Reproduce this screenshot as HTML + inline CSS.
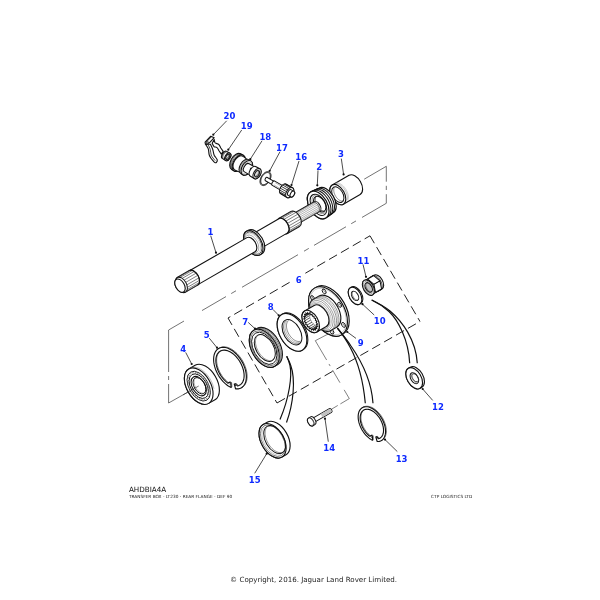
<!DOCTYPE html>
<html><head><meta charset="utf-8"><title>AHDBIA4A - Transfer Box - LT230 - Rear Flange - DEF 90</title>
<style>
html,body{margin:0;padding:0;background:#fff;}
body{width:600px;height:600px;overflow:hidden;position:relative;font-family:"DejaVu Sans","Liberation Sans",sans-serif;}
svg{position:absolute;left:0;top:0;display:block;}
svg{will-change:transform;opacity:0.999;filter:blur(0.35px);}
.lbl{font-family:"DejaVu Sans","Liberation Sans",sans-serif;font-weight:bold;font-size:8.5px;fill:#0e2aff;text-anchor:middle;}
.t1{font-family:"DejaVu Sans","Liberation Sans",sans-serif;font-size:7.2px;fill:#111;}
.t2{font-family:"DejaVu Sans","Liberation Sans",sans-serif;font-size:4.29px;fill:#1a1a1a;}
.t3{font-family:"DejaVu Sans","Liberation Sans",sans-serif;font-size:7.1px;fill:#222;}
</style></head>
<body>
<svg width="600" height="600" viewBox="0 0 600 600">
<rect width="600" height="600" fill="#fff"/>
<path d="M168.6,330 L184,321.04 M202,310.56 L226,296.59 M231.2,293.57 L236,290.77 M242,287.28 L298,254.69 M304,251.2 L308.8,248.4 M314,245.38 L346,226.75 M351.2,223.73 L356,220.93 M362,217.44 L386.3,203.3" fill="none" stroke="#333" stroke-width="0.69" />
<path d="M198.7,386 L168.6,403 L168.6,384 M168.6,380 L168.6,376 M168.6,372 L168.6,330" fill="none" stroke="#333" stroke-width="0.69" />
<path d="M364.2,179.2 L386.3,166.3 L386.3,181.7 M386.3,185.8 L386.3,190 M386.3,194.2 L386.3,203.3" fill="none" stroke="#333" stroke-width="0.69" />
<path d="M370,235.8 L228,318" fill="none" stroke="#111" stroke-width="0.94" stroke-dasharray="9.2 4.5" stroke-dashoffset="3"/>
<path d="M370,235.8 L420,321.5" fill="none" stroke="#111" stroke-width="0.94" stroke-dasharray="9.2 4.5" stroke-dashoffset="0.6"/>
<path d="M228,318 L277,403" fill="none" stroke="#111" stroke-width="0.94" stroke-dasharray="9.2 4.5" stroke-dashoffset="1.2"/>
<path d="M277,403 L420,321.5" fill="none" stroke="#111" stroke-width="0.94" stroke-dasharray="9.2 4.5"/>
<path d="M333.3,331.3 L315.3,340.7" fill="none" stroke="#333" stroke-width="0.62" />
<path d="M315.3,340.7 L349.3,398.6" fill="none" stroke="#333" stroke-width="0.62" stroke-dasharray="22.4 4.6 2.4 4.6 14.7 8.3 11"/>
<path d="M349.3,398.6 L331.5,409.2" fill="none" stroke="#333" stroke-width="0.62" stroke-dasharray="10.4 3 20"/>
<g transform="translate(318.7 204.7) rotate(-30)">
<g transform="translate(0 0.8)">
<path d="M21.6,-11.1 L41,-11.1 A6.66,11.1 0 0 1 41,11.1 L21.6,11.1 A6.66,11.1 0 0 1 21.6,-11.1 Z" fill="#fff" stroke="#111" stroke-width="1.12" stroke-linejoin="round"/>
<path d="M24.56,-10.93 L25.25,-10.67 L25.91,-10.28 L26.55,-9.78 L27.16,-9.16 L27.72,-8.45 L28.23,-7.64 L28.69,-6.74 L29.09,-5.77 L29.43,-4.73 L29.69,-3.64 L29.89,-2.51 L30.01,-1.34 L30.06,-0.17 L30.03,1.01 L29.93,2.18 L29.76,3.32 L29.51,4.42 L29.19,5.48 L28.81,6.47 L28.37,7.39 L27.87,8.23 L27.32,8.97 L26.73,9.61" fill="none" stroke="#888" stroke-width="0.5"/>
<path d="M25.76,-10.93 L26.45,-10.67 L27.11,-10.28 L27.75,-9.78 L28.36,-9.16 L28.92,-8.45 L29.43,-7.64 L29.89,-6.74 L30.29,-5.77 L30.63,-4.73 L30.89,-3.64 L31.09,-2.51 L31.21,-1.34 L31.26,-0.17 L31.23,1.01 L31.13,2.18 L30.96,3.32 L30.71,4.42 L30.39,5.48 L30.01,6.47 L29.57,7.39 L29.07,8.23 L28.52,8.97 L27.93,9.61" fill="none" stroke="#aaa" stroke-width="0.5"/>
<ellipse cx="21.6" cy="0" rx="6.66" ry="11.1" fill="#fff" stroke="#111" stroke-width="1.12" />
<ellipse cx="21.6" cy="0" rx="5.1" ry="8.5" fill="none" stroke="#111" stroke-width="1" />
<path d="M23.56,8.47 L23.01,8.34 L22.47,8.11 L21.96,7.79 L21.47,7.38 L21,6.88 L20.57,6.3 L20.19,5.64 L19.84,4.92 L19.55,4.15 L19.31,3.32 L19.12,2.46 L18.99,1.56 L18.92,0.65 L18.9,-0.27 L18.95,-1.18 L19.06,-2.09 L19.22,-2.96 L19.44,-3.81 L19.71,-4.6 L20.04,-5.35 L20.41,-6.03 L20.82,-6.64 L21.27,-7.18 L21.75,-7.63 L22.26,-7.99" fill="none" stroke="#555" stroke-width="0.62"/>
</g>
<path d="M-0.6,-15.1 L8.4,-14.2 A8.52,14.2 0 0 1 8.4,14.2 L-0.6,15.1 A9.06,15.1 0 0 1 -0.6,-15.1 Z" fill="#fff" stroke="#111" stroke-width="1.25" stroke-linejoin="round"/>
<path d="M1.34,-14.99 L2.3,-14.96 L3.25,-14.76 L4.19,-14.39 L5.1,-13.85 L5.97,-13.16 L6.79,-12.32 L7.55,-11.33 L8.24,-10.22 L8.86,-8.99 L9.39,-7.65 L9.84,-6.23 L10.19,-4.73 L10.44,-3.19 L10.6,-1.6 L10.65,0 L10.6,1.6 L10.44,3.19 L10.19,4.73 L9.84,6.23 L9.39,7.65 L8.86,8.99 L8.24,10.22 L7.55,11.33 L6.79,12.32 L5.97,13.16 L5.1,13.85 L4.19,14.39 L3.25,14.76 L2.3,14.96 L1.34,14.99" fill="none" stroke="#111" stroke-width="1"/>
<path d="M3.59,-14.79 L4.54,-14.76 L5.48,-14.56 L6.41,-14.2 L7.3,-13.67 L8.16,-12.99 L8.97,-12.15 L9.72,-11.18 L10.4,-10.08 L11.01,-8.87 L11.54,-7.55 L11.98,-6.15 L12.33,-4.67 L12.58,-3.14 L12.73,-1.58 L12.78,0 L12.73,1.58 L12.58,3.14 L12.33,4.67 L11.98,6.15 L11.54,7.55 L11.01,8.87 L10.4,10.08 L9.72,11.18 L8.97,12.15 L8.16,12.99 L7.3,13.67 L6.41,14.2 L5.48,14.56 L4.54,14.76 L3.59,14.79" fill="none" stroke="#111" stroke-width="1"/>
<path d="M5.85,-14.49 L6.78,-14.46 L7.7,-14.27 L8.61,-13.91 L9.48,-13.39 L10.32,-12.72 L11.12,-11.91 L11.85,-10.95 L12.52,-9.88 L13.12,-8.69 L13.63,-7.4 L14.06,-6.02 L14.41,-4.58 L14.65,-3.08 L14.8,-1.55 L14.85,0 L14.8,1.55 L14.65,3.08 L14.41,4.58 L14.06,6.02 L13.63,7.4 L13.12,8.69 L12.52,9.88 L11.85,10.95 L11.12,11.91 L10.32,12.72 L9.48,13.39 L8.61,13.91 L7.7,14.27 L6.78,14.46 L5.85,14.49" fill="none" stroke="#111" stroke-width="1"/>
<ellipse cx="-0.6" cy="0" rx="9.06" ry="15.1" fill="#fff" stroke="#111" stroke-width="1.25" />
<ellipse cx="-0.3" cy="0" rx="6.96" ry="11.6" fill="none" stroke="#111" stroke-width="1" />
<path d="M3.86,8.83 L3.29,9.32 L2.69,9.7 L2.07,9.98 L1.44,10.14 L0.8,10.2 L0.16,10.14 L-0.47,9.98 L-1.09,9.7 L-1.69,9.32 L-2.26,8.83 L-2.8,8.25 L-3.3,7.58 L-3.75,6.83 L-4.15,6 L-4.5,5.1 L-4.79,4.15 L-5.02,3.15 L-5.19,2.12 L-5.29,1.07 L-5.32,0 L-5.29,-1.07 L-5.19,-2.12 L-5.02,-3.15 L-4.79,-4.15 L-4.5,-5.1 L-4.15,-6 L-3.75,-6.83 L-3.3,-7.58 L-2.8,-8.25 L-2.26,-8.83 L-1.69,-9.32 L-1.09,-9.7 L-0.47,-9.98 L0.16,-10.14 L0.8,-10.2 L1.44,-10.14 L2.07,-9.98 L2.69,-9.7 L3.29,-9.32 L3.86,-8.83" fill="none" stroke="#666" stroke-width="0.62"/>
<ellipse cx="1.2" cy="0" rx="5.16" ry="8.6" fill="none" stroke="#111" stroke-width="1.12" />
<path d="M2.1,8.47 L1.56,8.26 L1.04,7.96 L0.54,7.56 L0.07,7.08 L-0.37,6.51 L-0.77,5.87 L-1.13,5.17 L-1.43,4.4 L-1.69,3.58 L-1.89,2.72 L-2.04,1.83 L-2.13,0.92 L-2.16,0 L-2.13,-0.92 L-2.04,-1.83 L-1.89,-2.72 L-1.69,-3.58 L-1.43,-4.4 L-1.13,-5.17 L-0.77,-5.87 L-0.37,-6.51 L0.07,-7.08 L0.54,-7.56 L1.04,-7.96 L1.56,-8.26 L2.1,-8.47" fill="none" stroke="#333" stroke-width="0.88"/>
<g transform="translate(0 0.7)">
<path d="M-28,-5.6 L-2.5,-5.6 A3.36,5.6 0 0 1 -2.5,5.6 L-28,5.6 A3.36,5.6 0 0 1 -28,-5.6 Z" fill="#fff" stroke="#111" stroke-width="1" stroke-linejoin="round"/>
<path d="M-26.63,-5.12 L-1.13,-5.12 M-25.75,-4.16 L-0.25,-4.16 M-25.09,-2.8 L0.41,-2.8 M-24.71,-1.16 L0.79,-1.16 M-24.66,0.59 L0.84,0.59 M-24.93,2.28 L0.57,2.28 M-25.5,3.75 L-0,3.75 M-26.32,4.85 L-0.82,4.85 M-27.3,5.48 L-1.8,5.48 " fill="none" stroke="#666" stroke-width="0.44"/>
<path d="M-4.2,-5.6 L-3.85,-5.57 L-3.5,-5.48 L-3.16,-5.33 L-2.83,-5.12 L-2.52,-4.85 L-2.23,-4.53 L-1.95,-4.16 L-1.7,-3.75 L-1.48,-3.29 L-1.29,-2.8 L-1.13,-2.28 L-1,-1.73 L-0.91,-1.16 L-0.86,-0.59 L-0.84,0 L-0.86,0.59 L-0.91,1.16 L-1,1.73 L-1.13,2.28 L-1.29,2.8 L-1.48,3.29 L-1.7,3.75 L-1.95,4.16 L-2.23,4.53 L-2.52,4.85 L-2.83,5.12 L-3.16,5.33 L-3.5,5.48 L-3.85,5.57 L-4.2,5.6" fill="none" stroke="#333" stroke-width="0.62"/>
</g>
<g transform="translate(0 0.6)">
<path d="M-41.5,-8.6 L-27.5,-8.6 A5.16,8.6 0 0 1 -27.5,8.6 L-41.5,8.6 A5.16,8.6 0 0 1 -41.5,-8.6 Z" fill="#fff" stroke="#111" stroke-width="1.12" stroke-linejoin="round"/>
<path d="M-40.25,-8.34 L-26.25,-8.34 M-38.69,-7.21 L-24.69,-7.21 M-37.43,-5.29 L-23.43,-5.29 M-36.62,-2.8 L-22.62,-2.8 M-36.34,0 L-22.34,0 M-36.62,2.8 L-22.62,2.8 M-37.43,5.29 L-23.43,5.29 M-38.69,7.21 L-24.69,7.21 M-40.25,8.34 L-26.25,8.34 " fill="none" stroke="#444" stroke-width="0.62"/>
<path d="M-41.5,-8.6 L-40.96,-8.55 L-40.43,-8.41 L-39.91,-8.18 L-39.4,-7.86 L-38.92,-7.45 L-38.47,-6.96 L-38.05,-6.39 L-37.67,-5.75 L-37.33,-5.05 L-37.03,-4.3 L-36.79,-3.5 L-36.59,-2.66 L-36.45,-1.79 L-36.37,-0.9 L-36.34,0 L-36.37,0.9 L-36.45,1.79 L-36.59,2.66 L-36.79,3.5 L-37.03,4.3 L-37.33,5.05 L-37.67,5.75 L-38.05,6.39 L-38.47,6.96 L-38.92,7.45 L-39.4,7.86 L-39.91,8.18 L-40.43,8.41 L-40.96,8.55 L-41.5,8.6" fill="none" stroke="#111" stroke-width="1"/>
</g>
<g transform="translate(0 0.55)">
<path d="M-72,-8.3 L-41.5,-8.3 A4.98,8.3 0 0 1 -41.5,8.3 L-72,8.3 A4.98,8.3 0 0 1 -72,-8.3 Z" fill="#fff" stroke="#111" stroke-width="1.12" stroke-linejoin="round"/>
</g>
<g transform="translate(0 0.5)">
<path d="M-75.8,-13.5 L-73.8,-13.5 A8.1,13.5 0 0 1 -73.8,13.5 L-75.8,13.5 A8.1,13.5 0 0 1 -75.8,-13.5 Z" fill="#fff" stroke="#111" stroke-width="1.12" stroke-linejoin="round"/>
<ellipse cx="-75.8" cy="0" rx="8.1" ry="13.5" fill="#fff" stroke="#111" stroke-width="1.12" />
<ellipse cx="-76" cy="0" rx="7.38" ry="12.3" fill="none" stroke="#333" stroke-width="0.75" />
<ellipse cx="-76.6" cy="0" rx="6.72" ry="11.2" fill="none" stroke="#aaa" stroke-width="0.5" />
<ellipse cx="-77.6" cy="0" rx="5.88" ry="9.8" fill="none" stroke="#777" stroke-width="0.56" />
</g>
<g transform="translate(0 0.75)">
<path d="M-145,-8.1 L-78.6,-8.1 A4.86,8.1 0 0 1 -78.6,8.1 L-145,8.1 A4.86,8.1 0 0 1 -145,-8.1 Z" fill="#fff" stroke="#111" stroke-width="1.12" stroke-linejoin="round"/>
<path d="M-159,-8.4 L-145,-8.4 A5.04,8.4 0 0 1 -145,8.4 L-159,8.4 A5.04,8.4 0 0 1 -159,-8.4 Z" fill="#fff" stroke="#111" stroke-width="1.12" stroke-linejoin="round"/>
<path d="M-157.78,-8.15 L-143.78,-8.15 M-156.26,-7.04 L-142.26,-7.04 M-155.03,-5.17 L-141.03,-5.17 M-154.23,-2.73 L-140.23,-2.73 M-153.96,0 L-139.96,0 M-154.23,2.73 L-140.23,2.73 M-155.03,5.17 L-141.03,5.17 M-156.26,7.04 L-142.26,7.04 M-157.78,8.15 L-143.78,8.15 " fill="none" stroke="#444" stroke-width="0.62"/>
<path d="M-145,-8.4 L-144.47,-8.35 L-143.95,-8.22 L-143.44,-7.99 L-142.95,-7.67 L-142.48,-7.27 L-142.04,-6.8 L-141.63,-6.24 L-141.25,-5.62 L-140.92,-4.94 L-140.64,-4.2 L-140.4,-3.42 L-140.21,-2.6 L-140.07,-1.75 L-139.99,-0.88 L-139.96,0 L-139.99,0.88 L-140.07,1.75 L-140.21,2.6 L-140.4,3.42 L-140.64,4.2 L-140.92,4.94 L-141.25,5.62 L-141.63,6.24 L-142.04,6.8 L-142.48,7.27 L-142.95,7.67 L-143.44,7.99 L-143.95,8.22 L-144.47,8.35 L-145,8.4" fill="none" stroke="#111" stroke-width="1"/>
<path d="M-160.6,-7.3 L-159,-8.4 A5.04,8.4 0 0 1 -159,8.4 L-160.6,7.3 A4.38,7.3 0 0 1 -160.6,-7.3 Z" fill="#fff" stroke="#111" stroke-width="1" stroke-linejoin="round"/>
<ellipse cx="-160.6" cy="0" rx="4.38" ry="7.3" fill="#fff" stroke="#111" stroke-width="1.12" />
</g>
</g>
<g transform="translate(225.5 155.5) rotate(30)">
<path d="M2.6,4.2 L-1,4.2 A2.52,4.2 0 0 1 -1,-4.2 L2.6,-4.2 A2.52,4.2 0 0 1 2.6,4.2 Z" fill="#fff" stroke="#111" stroke-width="1.12" stroke-linejoin="round"/>
<path d="M-0.3,4.2 L-0.56,4.18 L-0.82,4.11 L-1.08,3.99 L-1.32,3.84 L-1.56,3.64 L-1.78,3.4 L-1.99,3.12 L-2.17,2.81 L-2.34,2.47 L-2.48,2.1 L-2.6,1.71 L-2.7,1.3 L-2.76,0.87 L-2.81,0.44 L-2.82,0 L-2.81,-0.44 L-2.76,-0.87 L-2.7,-1.3 L-2.6,-1.71 L-2.48,-2.1 L-2.34,-2.47 L-2.17,-2.81 L-1.99,-3.12 L-1.78,-3.4 L-1.56,-3.64 L-1.32,-3.84 L-1.08,-3.99 L-0.82,-4.11 L-0.56,-4.18 L-0.3,-4.2" fill="none" stroke="#111" stroke-width="0.75"/>
<path d="M0.5,4.2 L0.24,4.18 L-0.02,4.11 L-0.28,3.99 L-0.52,3.84 L-0.76,3.64 L-0.98,3.4 L-1.19,3.12 L-1.37,2.81 L-1.54,2.47 L-1.68,2.1 L-1.8,1.71 L-1.9,1.3 L-1.96,0.87 L-2.01,0.44 L-2.02,0 L-2.01,-0.44 L-1.96,-0.87 L-1.9,-1.3 L-1.8,-1.71 L-1.68,-2.1 L-1.54,-2.47 L-1.37,-2.81 L-1.19,-3.12 L-0.98,-3.4 L-0.76,-3.64 L-0.52,-3.84 L-0.28,-3.99 L-0.02,-4.11 L0.24,-4.18 L0.5,-4.2" fill="none" stroke="#444" stroke-width="0.62"/>
<ellipse cx="2.6" cy="0" rx="2.52" ry="4.2" fill="#fff" stroke="#111" stroke-width="1.12" />
<ellipse cx="2.6" cy="0" rx="1.68" ry="2.8" fill="#ddd" stroke="#111" stroke-width="1" />
<path d="M2.17,-2.63 L2.34,-2.52 L2.49,-2.37 L2.63,-2.21 L2.77,-2.01 L2.89,-1.8 L2.99,-1.57 L3.08,-1.31 L3.16,-1.05 L3.21,-0.77 L3.25,-0.49 L3.28,-0.2 L3.28,0.1 L3.26,0.39 L3.23,0.68 L3.18,0.96 L3.11,1.23 L3.02,1.48 L2.92,1.72 L2.81,1.95 L2.68,2.14 L2.54,2.32 L2.39,2.47 L2.23,2.6 L2.06,2.69 L1.89,2.76" fill="none" stroke="#222" stroke-width="0.75"/>
<path d="M15.3,9 L12.3,9 A5.4,9 0 0 1 12.3,-9 L15.3,-9 A5.4,9 0 0 1 15.3,9 Z" fill="#fff" stroke="#111" stroke-width="1.12" stroke-linejoin="round"/>
<path d="M13.2,9 L12.64,8.95 L12.08,8.8 L11.53,8.56 L11,8.22 L10.5,7.79 L10.03,7.28 L9.59,6.69 L9.19,6.02 L8.83,5.29 L8.52,4.5 L8.27,3.66 L8.06,2.78 L7.92,1.87 L7.83,0.94 L7.8,0 L7.83,-0.94 L7.92,-1.87 L8.06,-2.78 L8.27,-3.66 L8.52,-4.5 L8.83,-5.29 L9.19,-6.02 L9.59,-6.69 L10.03,-7.28 L10.5,-7.79 L11,-8.22 L11.53,-8.56 L12.08,-8.8 L12.64,-8.95 L13.2,-9" fill="none" stroke="#111" stroke-width="0.62"/>
<path d="M14.3,9 L13.74,8.95 L13.18,8.8 L12.63,8.56 L12.1,8.22 L11.6,7.79 L11.13,7.28 L10.69,6.69 L10.29,6.02 L9.93,5.29 L9.62,4.5 L9.37,3.66 L9.16,2.78 L9.02,1.87 L8.93,0.94 L8.9,0 L8.93,-0.94 L9.02,-1.87 L9.16,-2.78 L9.37,-3.66 L9.62,-4.5 L9.93,-5.29 L10.29,-6.02 L10.69,-6.69 L11.13,-7.28 L11.6,-7.79 L12.1,-8.22 L12.63,-8.56 L13.18,-8.8 L13.74,-8.95 L14.3,-9" fill="none" stroke="#111" stroke-width="0.62"/>
<ellipse cx="15.3" cy="0" rx="5.4" ry="9" fill="#fff" stroke="#111" stroke-width="1.12" />
<ellipse cx="15.6" cy="0" rx="4.86" ry="8.1" fill="none" stroke="#888" stroke-width="0.5" />
<path d="M22.3,7.2 L15.3,8 A4.8,8 0 0 1 15.3,-8 L22.3,-7.2 A4.32,7.2 0 0 1 22.3,7.2 Z" fill="#fff" stroke="#111" stroke-width="1" stroke-linejoin="round"/>
<path d="M24.6,8 L22.3,8 A4.8,8 0 0 1 22.3,-8 L24.6,-8 A4.8,8 0 0 1 24.6,8 Z" fill="#fff" stroke="#111" stroke-width="1.12" stroke-linejoin="round"/>
<path d="M22.88,7.97 L22.38,7.85 L21.89,7.64 L21.41,7.35 L20.95,6.98 L20.52,6.52 L20.12,6 L19.76,5.4 L19.44,4.75 L19.16,4.04 L18.92,3.29 L18.74,2.5 L18.61,1.68 L18.53,0.85 L18.5,0 L18.53,-0.85 L18.61,-1.68 L18.74,-2.5 L18.92,-3.29 L19.16,-4.04 L19.44,-4.75 L19.76,-5.4 L20.12,-6 L20.52,-6.52 L20.95,-6.98 L21.41,-7.35 L21.89,-7.64 L22.38,-7.85 L22.88,-7.97" fill="none" stroke="#555" stroke-width="0.62"/>
<ellipse cx="24.6" cy="0" rx="4.8" ry="8" fill="#fff" stroke="#111" stroke-width="1.12" />
<ellipse cx="24.9" cy="0" rx="3.96" ry="6.6" fill="none" stroke="#888" stroke-width="0.5" />
<path d="M32.2,4.7 L24.6,4.7 A2.82,4.7 0 0 1 24.6,-4.7 L32.2,-4.7 A2.82,4.7 0 0 1 32.2,4.7 Z" fill="#fff" stroke="#111" stroke-width="1" stroke-linejoin="round"/>
<path d="M27.4,-1.4 L29.2,-1.4 M28.3,-2.4 L28.3,-0.2" fill="none" stroke="#111" stroke-width="0.62" />
<path d="M36.4,5.6 L32,5.6 A3.36,5.6 0 0 1 32,-5.6 L36.4,-5.6 A3.36,5.6 0 0 1 36.4,5.6 Z" fill="#fff" stroke="#111" stroke-width="1.12" stroke-linejoin="round"/>
<ellipse cx="36.4" cy="0" rx="3.36" ry="5.6" fill="#fff" stroke="#111" stroke-width="1.12" />
<ellipse cx="36.4" cy="0" rx="2.7" ry="4.5" fill="none" stroke="#777" stroke-width="0.5" />
<ellipse cx="36.4" cy="0" rx="2.04" ry="3.4" fill="#ddd" stroke="#111" stroke-width="1" />
<path d="M36.2,-3.19 L36.39,-3.06 L36.58,-2.88 L36.76,-2.68 L36.92,-2.45 L37.06,-2.19 L37.19,-1.9 L37.3,-1.6 L37.39,-1.27 L37.46,-0.94 L37.51,-0.59 L37.54,-0.24 L37.54,0.12 L37.52,0.47 L37.48,0.82 L37.42,1.16 L37.33,1.49 L37.23,1.8 L37.11,2.09 L36.97,2.36 L36.81,2.6 L36.64,2.82 L36.46,3 L36.26,3.15 L36.06,3.27 L35.85,3.35" fill="none" stroke="#333" stroke-width="0.62"/>
<path d="M50.76,0 L50.74,0.79 L50.66,1.58 L50.54,2.35 L50.37,3.09 L50.15,3.8 L49.89,4.47 L49.59,5.09 L49.25,5.65 L48.88,6.15 L48.48,6.58 L48.05,6.94 L47.61,7.23 L47.15,7.43 L46.68,7.56 L46.2,7.6 L45.72,7.56 L45.25,7.43 L44.79,7.23 L44.35,6.94 L43.92,6.58 L43.52,6.15 L43.15,5.65 L42.81,5.09 L42.51,4.47 L42.25,3.8 L42.03,3.09 L41.86,2.35 L41.74,1.58 L41.66,0.79 L41.64,0 L41.66,-0.79 L41.74,-1.58 L41.86,-2.35 L42.03,-3.09 L42.25,-3.8 L42.51,-4.47 L42.81,-5.09 L43.15,-5.65 L43.52,-6.15 L43.92,-6.58 L44.35,-6.94 L44.79,-7.23 L45.25,-7.43 L45.72,-7.56 L46.2,-7.6 L46.68,-7.56 L47.15,-7.43 L47.61,-7.23 L48.05,-6.94 L48.48,-6.58 L48.88,-6.15 L49.25,-5.65 L49.59,-5.09 L49.89,-4.47 L50.15,-3.8 L50.37,-3.09 L50.54,-2.35 L50.66,-1.58 L50.74,-0.79 L50.76,-0 L50.16,-0 L50.14,-0.69 L50.07,-1.37 L49.97,-2.04 L49.82,-2.68 L49.63,-3.3 L49.4,-3.88 L49.14,-4.42 L48.85,-4.9 L48.53,-5.34 L48.18,-5.72 L47.81,-6.03 L47.42,-6.28 L47.02,-6.46 L46.61,-6.56 L46.2,-6.6 L45.79,-6.56 L45.38,-6.46 L44.98,-6.28 L44.59,-6.03 L44.22,-5.72 L43.87,-5.34 L43.55,-4.9 L43.26,-4.42 L43,-3.88 L42.77,-3.3 L42.58,-2.68 L42.43,-2.04 L42.33,-1.37 L42.26,-0.69 L42.24,0 L42.26,0.69 L42.33,1.37 L42.43,2.04 L42.58,2.68 L42.77,3.3 L43,3.88 L43.26,4.42 L43.55,4.9 L43.87,5.34 L44.22,5.72 L44.59,6.03 L44.98,6.28 L45.38,6.46 L45.79,6.56 L46.2,6.6 L46.61,6.56 L47.02,6.46 L47.42,6.28 L47.81,6.03 L48.18,5.72 L48.53,5.34 L48.85,4.9 L49.14,4.42 L49.4,3.88 L49.63,3.3 L49.82,2.68 L49.97,2.04 L50.07,1.37 L50.14,0.69 L50.16,0 Z" fill="#fff" stroke="#111" stroke-width="0.88" stroke-linejoin="round"/>
<path d="M56,1.9 L47.2,1.9 A1.14,1.9 0 0 1 47.2,-1.9 L56,-1.9 A1.14,1.9 0 0 1 56,1.9 Z" fill="#fff" stroke="#111" stroke-width="1" stroke-linejoin="round"/>
<path d="M67.5,2.5 L55.5,2.5 A1.5,2.5 0 0 1 55.5,-2.5 L67.5,-2.5 A1.5,2.5 0 0 1 67.5,2.5 Z" fill="#fff" stroke="#111" stroke-width="1" stroke-linejoin="round"/>
<path d="M56.7,-1.25 L62.7,-1.25 M56.7,1.25 L62.7,1.25 " fill="none" stroke="#777" stroke-width="0.44"/>
<path d="M74.2,5.6 L67,5.6 A3.36,5.6 0 0 1 67,-5.6 L74.2,-5.6 A3.36,5.6 0 0 1 74.2,5.6 Z" fill="#fff" stroke="#111" stroke-width="1.12" stroke-linejoin="round"/>
<path d="M66.13,-5.41 L73.33,-5.41 M65.03,-4.53 L72.23,-4.53 M64.18,-3.05 L71.38,-3.05 M63.71,-1.16 L70.91,-1.16 M63.68,0.88 L70.88,0.88 M64.09,2.8 L71.29,2.8 M64.89,4.35 L72.09,4.35 M65.96,5.33 L73.16,5.33 " fill="none" stroke="#111" stroke-width="0.75"/>
<ellipse cx="74.2" cy="0" rx="3.36" ry="5.6" fill="#fff" stroke="#111" stroke-width="1.12" />
<path d="M77.2,3.2 L74.2,3.2 A1.92,3.2 0 0 1 74.2,-3.2 L77.2,-3.2 A1.92,3.2 0 0 1 77.2,3.2 Z" fill="#fff" stroke="#111" stroke-width="1" stroke-linejoin="round"/>
<ellipse cx="77.2" cy="0" rx="1.92" ry="3.2" fill="#fff" stroke="#111" stroke-width="1" />
</g>
<path d="M205.5,144.2 C206.6,146 207.6,147.2 208.2,148.6 C208.9,150.6 208.7,152.8 209.2,154.8 C210,157.6 212.4,160 214.2,162 C215,162.9 215.8,163 216.3,162.5 C217.2,161.7 217.5,160.6 217.2,159.8 C216.4,158 215,156.8 214.2,155.2 C213.4,153.4 213.4,151.4 212.8,149.6 C212.2,147.8 211.2,146 210.5,144.2 Z" fill="#fff" stroke="#111" stroke-width="1.12" stroke-linejoin="round"/>
<path d="M207.8,144.4 C208.8,146.2 209.8,147.6 210.2,149.2 C210.8,151.2 210.6,153.2 211.2,155 C212,157.2 213.8,159 215.2,160.6" fill="none" stroke="#111" stroke-width="0.75" />
<path d="M214.2,139.4 C214.3,141 214.4,142.3 215.2,142.9 C216.2,143.6 217.6,143.6 218.5,144.3 C219.6,145.2 220.1,146.8 220.8,148 L223.2,151.4 L221.3,154.1 L219,150.7 C218.4,149.6 217.9,148.3 217,147.6 C216.1,146.9 214.9,147.2 214.2,146.7 C213.2,145.9 212.7,144.6 212.2,143.3 Z" fill="#fff" stroke="#111" stroke-width="1.12" stroke-linejoin="round"/>
<path d="M205.1,142.2 L210.8,136.2 L214.2,137.7 L209.6,142.6 L206.8,144.4 L205.4,144.2 Z" fill="#fff" stroke="#111" stroke-width="1.12" stroke-linejoin="round"/>
<path d="M206.7,141.6 L211.2,137 M206.7,141.6 L209.6,142.6 M206.7,141.6 L206.8,144.4" fill="none" stroke="#111" stroke-width="0.88" />
<g transform="translate(310.7 321.5) rotate(-30)">
<g transform="translate(0 -0.5)">
<path d="M74.4,-8 L77.9,-8 A4.8,8 0 0 1 77.9,8 L74.4,8 A4.8,8 0 0 1 74.4,-8 Z" fill="#fff" stroke="#111" stroke-width="1.12" stroke-linejoin="round"/>
<path d="M76.1,-8 L76.6,-7.96 L77.1,-7.83 L77.58,-7.61 L78.05,-7.31 L78.5,-6.93 L78.92,-6.47 L79.31,-5.95 L79.67,-5.35 L79.98,-4.7 L80.26,-4 L80.49,-3.25 L80.67,-2.47 L80.8,-1.66 L80.87,-0.84 L80.9,0 L80.87,0.84 L80.8,1.66 L80.67,2.47 L80.49,3.25 L80.26,4 L79.98,4.7 L79.67,5.35 L79.31,5.95 L78.92,6.47 L78.5,6.93 L78.05,7.31 L77.58,7.61 L77.1,7.83 L76.6,7.96 L76.1,8" fill="none" stroke="#111" stroke-width="0.75"/>
<path d="M65.2,-7.79 L70.6,-7.79 L77.6,-7.79 L72.2,-7.79 Z" fill="#fff" stroke="#111" stroke-width="1" stroke-linejoin="round"/>
<path d="M70.6,7.79 L65.2,7.79 L72.2,7.79 L77.6,7.79 Z" fill="#fff" stroke="#111" stroke-width="1" stroke-linejoin="round"/>
<path d="M70.6,-7.79 L73.3,0 L80.3,0 L77.6,-7.79 Z" fill="#fff" stroke="#111" stroke-width="1" stroke-linejoin="round"/>
<path d="M73.3,0 L70.6,7.79 L77.6,7.79 L80.3,0 Z" fill="#fff" stroke="#111" stroke-width="1" stroke-linejoin="round"/>
<ellipse cx="66.9" cy="0" rx="5.04" ry="8.4" fill="#fff" stroke="#111" stroke-width="1.12" />
<ellipse cx="66.9" cy="0" rx="4.2" ry="7" fill="none" stroke="#666" stroke-width="0.56" />
<ellipse cx="67.2" cy="0" rx="3.12" ry="5.2" fill="#c4c4c4" stroke="#111" stroke-width="1.12" />
<path d="M67.66,5.12 L67.33,4.99 L67.02,4.81 L66.71,4.57 L66.43,4.28 L66.16,3.94 L65.92,3.55 L65.71,3.12 L65.52,2.66 L65.36,2.17 L65.24,1.65 L65.15,1.11 L65.1,0.56 L65.08,0 L65.1,-0.56 L65.15,-1.11 L65.24,-1.65 L65.36,-2.17 L65.52,-2.66 L65.71,-3.12 L65.92,-3.55 L66.16,-3.94 L66.43,-4.28 L66.71,-4.57 L67.02,-4.81 L67.33,-4.99 L67.66,-5.12" fill="none" stroke="#444" stroke-width="0.62"/>
</g>
<path d="M51.2,-9.5 L52.4,-9.5 A5.7,9.5 0 0 1 52.4,9.5 L51.2,9.5 A5.7,9.5 0 0 1 51.2,-9.5 Z" fill="#fff" stroke="#111" stroke-width="1" stroke-linejoin="round"/>
<ellipse cx="51.2" cy="0" rx="5.7" ry="9.5" fill="#fff" stroke="#111" stroke-width="1.12" />
<ellipse cx="51.2" cy="0" rx="3.06" ry="5.1" fill="none" stroke="#111" stroke-width="1" />
<path d="M51.67,5.02 L51.35,4.9 L51.04,4.72 L50.74,4.48 L50.46,4.2 L50.2,3.86 L49.96,3.48 L49.75,3.06 L49.57,2.61 L49.42,2.12 L49.3,1.62 L49.21,1.09 L49.16,0.55 L49.14,0 L49.16,-0.55 L49.21,-1.09 L49.3,-1.62 L49.42,-2.12 L49.57,-2.61 L49.75,-3.06 L49.96,-3.48 L50.2,-3.86 L50.46,-4.2 L50.74,-4.48 L51.04,-4.72 L51.35,-4.9 L51.67,-5.02" fill="none" stroke="#444" stroke-width="0.62"/>
<path d="M20,-27 L22,-27 A16.2,27 0 0 1 22,27 L20,27 A16.2,27 0 0 1 20,-27 Z" fill="#fff" stroke="#111" stroke-width="1.12" stroke-linejoin="round"/>
<ellipse cx="20" cy="0" rx="16.2" ry="27" fill="#fff" stroke="#111" stroke-width="1.12" />
<ellipse cx="20" cy="0" rx="15.24" ry="25.4" fill="none" stroke="#999" stroke-width="0.5" />
<ellipse cx="13.31" cy="-19.31" rx="1.62" ry="2.7" fill="#fff" stroke="#111" stroke-width="0.88"/>
<path d="M14.21,-21.61 A1.62,2.7 0 0 0 14.21,-17.01" fill="none" stroke="#444" stroke-width="0.56"/>
<ellipse cx="26.69" cy="-19.31" rx="1.62" ry="2.7" fill="#fff" stroke="#111" stroke-width="0.88"/>
<path d="M27.59,-21.61 A1.62,2.7 0 0 0 27.59,-17.01" fill="none" stroke="#444" stroke-width="0.56"/>
<ellipse cx="33.38" cy="0" rx="1.62" ry="2.7" fill="#fff" stroke="#111" stroke-width="0.88"/>
<path d="M34.28,-2.3 A1.62,2.7 0 0 0 34.28,2.3" fill="none" stroke="#444" stroke-width="0.56"/>
<ellipse cx="26.69" cy="19.31" rx="1.62" ry="2.7" fill="#fff" stroke="#111" stroke-width="0.88"/>
<path d="M27.59,17.01 A1.62,2.7 0 0 0 27.59,21.61" fill="none" stroke="#444" stroke-width="0.56"/>
<ellipse cx="13.31" cy="19.31" rx="1.62" ry="2.7" fill="#fff" stroke="#111" stroke-width="0.88"/>
<path d="M14.21,17.01 A1.62,2.7 0 0 0 14.21,21.61" fill="none" stroke="#444" stroke-width="0.56"/>
<path d="M13,-17.8 L20,-17.8 A10.68,17.8 0 0 1 20,17.8 L13,17.8 A10.68,17.8 0 0 1 13,-17.8 Z" fill="#fff" stroke="#111" stroke-width="1.12" stroke-linejoin="round"/>
<path d="M16.85,-17.53 L17.97,-17.1 L19.05,-16.47 L20.09,-15.65 L21.07,-14.65 L21.97,-13.48 L22.8,-12.16 L23.54,-10.69 L24.18,-9.11 L24.71,-7.41 L25.13,-5.64 L25.43,-3.79 L25.62,-1.91 L25.68,0 L25.62,1.91 L25.43,3.79 L25.13,5.64 L24.71,7.41 L24.18,9.11 L23.54,10.69 L22.8,12.16 L21.97,13.48 L21.07,14.65 L20.09,15.65 L19.05,16.47 L17.97,17.1 L16.85,17.53" fill="none" stroke="#555" stroke-width="0.56"/>
<path d="M18.25,-17.53 L19.37,-17.1 L20.45,-16.47 L21.49,-15.65 L22.47,-14.65 L23.37,-13.48 L24.2,-12.16 L24.94,-10.69 L25.58,-9.11 L26.11,-7.41 L26.53,-5.64 L26.83,-3.79 L27.02,-1.91 L27.08,0 L27.02,1.91 L26.83,3.79 L26.53,5.64 L26.11,7.41 L25.58,9.11 L24.94,10.69 L24.2,12.16 L23.37,13.48 L22.47,14.65 L21.49,15.65 L20.45,16.47 L19.37,17.1 L18.25,17.53" fill="none" stroke="#999" stroke-width="0.56"/>
<path d="M19.65,-17.53 L20.77,-17.1 L21.85,-16.47 L22.89,-15.65 L23.87,-14.65 L24.77,-13.48 L25.6,-12.16 L26.34,-10.69 L26.98,-9.11 L27.51,-7.41 L27.93,-5.64 L28.23,-3.79 L28.42,-1.91 L28.48,0 L28.42,1.91 L28.23,3.79 L27.93,5.64 L27.51,7.41 L26.98,9.11 L26.34,10.69 L25.6,12.16 L24.77,13.48 L23.87,14.65 L22.89,15.65 L21.85,16.47 L20.77,17.1 L19.65,17.53" fill="none" stroke="#555" stroke-width="0.56"/>
<path d="M13.37,-17.79 L14.5,-17.62 L15.61,-17.26 L16.69,-16.7 L17.73,-15.96 L18.71,-15.04 L19.64,-13.95 L20.48,-12.7 L21.25,-11.31 L21.92,-9.79 L22.49,-8.17 L22.95,-6.45 L23.31,-4.66 L23.55,-2.82 L23.67,-0.94 L23.67,0.94 L23.55,2.82 L23.31,4.66 L22.95,6.45 L22.49,8.17 L21.92,9.79 L21.25,11.31 L20.48,12.7 L19.64,13.95 L18.71,15.04 L17.73,15.96 L16.69,16.7 L15.61,17.26 L14.5,17.62 L13.37,17.79" fill="none" stroke="#666" stroke-width="0.56"/>
<ellipse cx="12.3" cy="0" rx="9.84" ry="16.4" fill="none" stroke="#666" stroke-width="0.56" />
<ellipse cx="11.5" cy="0" rx="9" ry="15" fill="none" stroke="#999" stroke-width="0.56" />
<ellipse cx="10.7" cy="0" rx="8.28" ry="13.8" fill="none" stroke="#666" stroke-width="0.56" />
<path d="M0,-12.2 L11,-12.2 A7.32,12.2 0 0 1 11,12.2 L0,12.2 A7.32,12.2 0 0 1 0,-12.2 Z" fill="#fff" stroke="#111" stroke-width="1.12" stroke-linejoin="round"/>
<ellipse cx="0" cy="0" rx="7.32" ry="12.2" fill="#fff" stroke="#111" stroke-width="1.12" />
<path d="M5.76,0 L4.74,1.25 L5.48,2.97 L4.28,3.63 L4.66,5.64 L3.39,5.66 L3.39,7.77 L2.18,7.13 L1.78,9.13 L0.75,7.9 L0,9.6 L-0.75,7.9 L-1.78,9.13 L-2.18,7.13 L-3.39,7.77 L-3.39,5.66 L-4.66,5.64 L-4.28,3.63 L-5.48,2.97 L-4.74,1.25 L-5.76,0 L-4.74,-1.25 L-5.48,-2.97 L-4.28,-3.63 L-4.66,-5.64 L-3.39,-5.66 L-3.39,-7.77 L-2.18,-7.13 L-1.78,-9.13 L-0.75,-7.9 L-0,-9.6 L0.75,-7.9 L1.78,-9.13 L2.18,-7.13 L3.39,-7.77 L3.39,-5.66 L4.66,-5.64 L4.28,-3.63 L5.48,-2.97 L4.74,-1.25 Z" fill="#fff" stroke="#111" stroke-width="1.06" />
<path d="M-0.75,7.9 L4.75,7.9 M-2.18,7.13 L3.32,7.13 M-3.39,5.66 L2.11,5.66 M-4.28,3.63 L1.22,3.63 M-4.74,1.25 L0.76,1.25 M-4.74,-1.25 L0.76,-1.25 M-4.28,-3.63 L1.22,-3.63 M-3.39,-5.66 L2.11,-5.66 M-2.18,-7.13 L3.32,-7.13 M-0.75,-7.9 L4.75,-7.9 " fill="none" stroke="#222" stroke-width="0.69" />
<path d="M3.86,7.52 L3.39,7.19 L2.94,6.77 L2.53,6.28 L2.14,5.72 L1.8,5.1 L1.5,4.41 L1.24,3.68 L1.03,2.91 L0.87,2.1 L0.76,1.27 L0.71,0.42 L0.71,-0.42 L0.76,-1.27 L0.87,-2.1 L1.03,-2.91 L1.24,-3.68 L1.5,-4.41 L1.8,-5.1 L2.14,-5.72 L2.53,-6.28 L2.94,-6.77 L3.39,-7.19 L3.86,-7.52" fill="none" stroke="#666" stroke-width="0.5"/>
<path d="M-21.6,-20.6 L-20.4,-20.6 A12.36,20.6 0 0 1 -20.4,20.6 L-21.6,20.6 A12.36,20.6 0 0 1 -21.6,-20.6 Z" fill="#fff" stroke="#111" stroke-width="1" stroke-linejoin="round"/>
<ellipse cx="-21.6" cy="0" rx="12.36" ry="20.6" fill="#fff" stroke="#111" stroke-width="1.12" />
<ellipse cx="-21.6" cy="0" rx="8.28" ry="13.8" fill="none" stroke="#111" stroke-width="1" />
<path d="M-21.09,13.15 L-21.92,12.95 L-22.73,12.61 L-23.52,12.13 L-24.27,11.51 L-24.98,10.77 L-25.64,9.9 L-26.24,8.92 L-26.77,7.84 L-27.23,6.67 L-27.62,5.43 L-27.92,4.13 L-28.14,2.78 L-28.28,1.4 L-28.32,0 L-28.28,-1.4 L-28.14,-2.78 L-27.92,-4.13 L-27.62,-5.43 L-27.23,-6.67 L-26.77,-7.84 L-26.24,-8.92 L-25.64,-9.9 L-24.98,-10.77 L-24.27,-11.51 L-23.52,-12.13 L-22.73,-12.61 L-21.92,-12.95 L-21.09,-13.15" fill="none" stroke="#444" stroke-width="0.56"/>
<path d="M-19.86,12.55 L-20.65,12.37 L-21.43,12.04 L-22.18,11.58 L-22.9,10.99 L-23.57,10.28 L-24.2,9.45 L-24.77,8.51 L-25.28,7.48 L-25.72,6.37 L-26.09,5.18 L-26.38,3.94 L-26.59,2.65 L-26.72,1.33 L-26.76,0 L-26.72,-1.33 L-26.59,-2.65 L-26.38,-3.94 L-26.09,-5.18 L-25.72,-6.37 L-25.28,-7.48 L-24.77,-8.51 L-24.2,-9.45 L-23.57,-10.28 L-22.9,-10.99 L-22.18,-11.58 L-21.43,-12.04 L-20.65,-12.37 L-19.86,-12.55" fill="none" stroke="#888" stroke-width="0.56"/>
<path d="M-18.63,11.95 L-19.38,11.78 L-20.12,11.47 L-20.84,11.03 L-21.52,10.47 L-22.17,9.79 L-22.76,9 L-23.31,8.11 L-23.79,7.13 L-24.21,6.06 L-24.56,4.94 L-24.84,3.75 L-25.04,2.52 L-25.16,1.27 L-25.2,0 L-25.16,-1.27 L-25.04,-2.52 L-24.84,-3.75 L-24.56,-4.94 L-24.21,-6.06 L-23.79,-7.13 L-23.31,-8.11 L-22.76,-9 L-22.17,-9.79 L-21.52,-10.47 L-20.84,-11.03 L-20.12,-11.47 L-19.38,-11.78 L-18.63,-11.95" fill="none" stroke="#444" stroke-width="0.56"/>
<path d="M-53.6,-20.8 L-50,-20.8 A12.48,20.8 0 0 1 -50,20.8 L-53.6,20.8 A12.48,20.8 0 0 1 -53.6,-20.8 Z" fill="#fff" stroke="#111" stroke-width="1.12" stroke-linejoin="round"/>
<path d="M-52.4,-20.8 L-51.1,-20.69 L-49.81,-20.35 L-48.54,-19.78 L-47.32,-19 L-46.16,-18.01 L-45.06,-16.83 L-44.05,-15.46 L-43.13,-13.92 L-42.3,-12.23 L-41.59,-10.4 L-41,-8.46 L-40.53,-6.43 L-40.19,-4.32 L-39.99,-2.17 L-39.92,0 L-39.99,2.17 L-40.19,4.32 L-40.53,6.43 L-41,8.46 L-41.59,10.4 L-42.3,12.23 L-43.13,13.92 L-44.05,15.46 L-45.06,16.83 L-46.16,18.01 L-47.32,19 L-48.54,19.78 L-49.81,20.35 L-51.1,20.69 L-52.4,20.8" fill="none" stroke="#444" stroke-width="0.62"/>
<path d="M-51.2,-20.8 L-49.9,-20.69 L-48.61,-20.35 L-47.34,-19.78 L-46.12,-19 L-44.96,-18.01 L-43.86,-16.83 L-42.85,-15.46 L-41.93,-13.92 L-41.1,-12.23 L-40.39,-10.4 L-39.8,-8.46 L-39.33,-6.43 L-38.99,-4.32 L-38.79,-2.17 L-38.72,0 L-38.79,2.17 L-38.99,4.32 L-39.33,6.43 L-39.8,8.46 L-40.39,10.4 L-41.1,12.23 L-41.93,13.92 L-42.85,15.46 L-43.86,16.83 L-44.96,18.01 L-46.12,19 L-47.34,19.78 L-48.61,20.35 L-49.9,20.69 L-51.2,20.8" fill="none" stroke="#444" stroke-width="0.62"/>
<ellipse cx="-53.6" cy="0" rx="12.48" ry="20.8" fill="#fff" stroke="#111" stroke-width="1.12" />
<ellipse cx="-53.6" cy="0" rx="11.52" ry="19.2" fill="none" stroke="#444" stroke-width="0.62" />
<ellipse cx="-53.6" cy="0" rx="10.56" ry="17.6" fill="none" stroke="#111" stroke-width="0.88" />
<ellipse cx="-53" cy="0" rx="8.76" ry="14.6" fill="none" stroke="#111" stroke-width="1" />
<path d="M-52.36,14.54 L-53.28,14.33 L-54.18,13.95 L-55.05,13.42 L-55.89,12.73 L-56.67,11.91 L-57.4,10.95 L-58.06,9.86 L-58.65,8.67 L-59.16,7.38 L-59.58,6 L-59.92,4.56 L-60.16,3.07 L-60.31,1.54 L-60.36,0 L-60.31,-1.54 L-60.16,-3.07 L-59.92,-4.56 L-59.58,-6 L-59.16,-7.38 L-58.65,-8.67 L-58.06,-9.86 L-57.4,-10.95 L-56.67,-11.91 L-55.89,-12.73 L-55.05,-13.42 L-54.18,-13.95 L-53.28,-14.33 L-52.36,-14.54" fill="none" stroke="#555" stroke-width="0.56"/>
<path d="M-101.05,17.39 L-101.92,16.08 L-102.71,14.64 L-103.42,13.1 L-104.05,11.47 L-104.6,9.75 L-105.06,7.96 L-105.42,6.1 L-105.68,4.21 L-105.85,2.28 L-105.92,0.34 L-105.89,-1.61 L-105.75,-3.54 L-105.52,-5.45 L-105.19,-7.32 L-104.77,-9.13 L-104.25,-10.88 L-103.65,-12.54 L-102.97,-14.12 L-102.2,-15.59 L-101.36,-16.94 L-100.46,-18.18 L-99.49,-19.27 L-98.48,-20.23 L-97.41,-21.04 L-96.31,-21.69 L-95.18,-22.18 L-94.03,-22.52 L-92.87,-22.68 L-91.7,-22.68 L-90.54,-22.51 L-89.39,-22.18 L-88.26,-21.68 L-87.16,-21.02 L-86.1,-20.21 L-85.08,-19.25 L-84.12,-18.15 L-83.22,-16.91 L-82.38,-15.56 L-81.62,-14.08 L-80.93,-12.51 L-80.33,-10.84 L-79.82,-9.09 L-79.4,-7.27 L-79.07,-5.4 L-78.84,-3.5 L-78.71,-1.56 L-78.68,0.38 L-78.75,2.33 L-78.92,4.25 L-79.19,6.15 L-79.55,8 L-80.01,9.79 L-80.56,11.51 L-81.19,13.14 L-81.91,14.68 L-82.7,16.11 L-83.57,17.42 L-84.49,18.6 L-85.48,19.65 L-86.51,20.55 L-87.59,21.3 L-88.7,21.89 L-89.84,22.33 L-91,22.6 L-92.16,22.7 L-93.33,22.63 L-94.49,22.4 L-95.63,22.01 L-96.75,21.45 L-97.84,20.74 L-96.55,15.9 L-95.35,16.64 L-94.75,19.17 L-94.75,19.17 L-93.82,19.44 L-92.89,19.58 L-91.95,19.59 L-91.01,19.48 L-90.08,19.25 L-89.17,18.89 L-88.28,18.42 L-87.41,17.83 L-86.57,17.12 L-85.77,16.3 L-85.01,15.38 L-84.3,14.37 L-83.64,13.26 L-83.03,12.07 L-82.49,10.8 L-82,9.46 L-81.58,8.06 L-81.23,6.61 L-80.95,5.12 L-80.74,3.6 L-80.6,2.05 L-80.54,0.49 L-80.56,-1.07 L-80.65,-2.63 L-80.81,-4.17 L-81.05,-5.68 L-81.35,-7.16 L-81.73,-8.59 L-82.17,-9.97 L-82.68,-11.28 L-83.25,-12.52 L-83.88,-13.69 L-84.56,-14.76 L-85.29,-15.74 L-86.07,-16.62 L-86.88,-17.4 L-87.73,-18.06 L-88.61,-18.61 L-89.51,-19.04 L-90.43,-19.35 L-91.36,-19.54 L-92.3,-19.6 L-93.24,-19.54 L-94.17,-19.35 L-95.09,-19.04 L-95.99,-18.61 L-96.87,-18.06 L-97.72,-17.4 L-98.53,-16.62 L-99.31,-15.74 L-100.04,-14.76 L-100.72,-13.69 L-101.35,-12.52 L-101.92,-11.28 L-102.43,-9.97 L-102.87,-8.59 L-103.25,-7.16 L-103.55,-5.68 L-103.79,-4.17 L-103.95,-2.63 L-104.04,-1.07 L-104.06,0.49 L-104,2.05 L-103.86,3.6 L-103.65,5.12 L-103.37,6.61 L-103.02,8.06 L-102.6,9.46 L-102.11,10.8 L-101.57,12.07 L-99.94,11.87 L-99.01,13.33 Z" fill="#fff" stroke="#333" stroke-width="0.62" stroke-linejoin="round"/>
<path d="M-101.95,17.39 L-102.82,16.08 L-103.61,14.64 L-104.32,13.1 L-104.95,11.47 L-105.5,9.75 L-105.96,7.96 L-106.32,6.1 L-106.58,4.21 L-106.75,2.28 L-106.82,0.34 L-106.79,-1.61 L-106.65,-3.54 L-106.42,-5.45 L-106.09,-7.32 L-105.67,-9.13 L-105.15,-10.88 L-104.55,-12.54 L-103.87,-14.12 L-103.1,-15.59 L-102.26,-16.94 L-101.36,-18.18 L-100.39,-19.27 L-99.38,-20.23 L-98.31,-21.04 L-97.21,-21.69 L-96.08,-22.18 L-94.93,-22.52 L-93.77,-22.68 L-92.6,-22.68 L-91.44,-22.51 L-90.29,-22.18 L-89.16,-21.68 L-88.06,-21.02 L-87,-20.21 L-85.98,-19.25 L-85.02,-18.15 L-84.12,-16.91 L-83.28,-15.56 L-82.52,-14.08 L-81.83,-12.51 L-81.23,-10.84 L-80.72,-9.09 L-80.3,-7.27 L-79.97,-5.4 L-79.74,-3.5 L-79.61,-1.56 L-79.58,0.38 L-79.65,2.33 L-79.82,4.25 L-80.09,6.15 L-80.45,8 L-80.91,9.79 L-81.46,11.51 L-82.09,13.14 L-82.81,14.68 L-83.6,16.11 L-84.47,17.42 L-85.39,18.6 L-86.38,19.65 L-87.41,20.55 L-88.49,21.3 L-89.6,21.89 L-90.74,22.33 L-91.9,22.6 L-93.06,22.7 L-94.23,22.63 L-95.39,22.4 L-96.53,22.01 L-97.65,21.45 L-98.74,20.74 L-97.45,15.9 L-96.25,16.64 L-95.65,19.17 L-95.65,19.17 L-94.72,19.44 L-93.79,19.58 L-92.85,19.59 L-91.91,19.48 L-90.98,19.25 L-90.07,18.89 L-89.18,18.42 L-88.31,17.83 L-87.47,17.12 L-86.67,16.3 L-85.91,15.38 L-85.2,14.37 L-84.54,13.26 L-83.93,12.07 L-83.39,10.8 L-82.9,9.46 L-82.48,8.06 L-82.13,6.61 L-81.85,5.12 L-81.64,3.6 L-81.5,2.05 L-81.44,0.49 L-81.46,-1.07 L-81.55,-2.63 L-81.71,-4.17 L-81.95,-5.68 L-82.25,-7.16 L-82.63,-8.59 L-83.07,-9.97 L-83.58,-11.28 L-84.15,-12.52 L-84.78,-13.69 L-85.46,-14.76 L-86.19,-15.74 L-86.97,-16.62 L-87.78,-17.4 L-88.63,-18.06 L-89.51,-18.61 L-90.41,-19.04 L-91.33,-19.35 L-92.26,-19.54 L-93.2,-19.6 L-94.14,-19.54 L-95.07,-19.35 L-95.99,-19.04 L-96.89,-18.61 L-97.77,-18.06 L-98.62,-17.4 L-99.43,-16.62 L-100.21,-15.74 L-100.94,-14.76 L-101.62,-13.69 L-102.25,-12.52 L-102.82,-11.28 L-103.33,-9.97 L-103.77,-8.59 L-104.15,-7.16 L-104.45,-5.68 L-104.69,-4.17 L-104.85,-2.63 L-104.94,-1.07 L-104.96,0.49 L-104.9,2.05 L-104.76,3.6 L-104.55,5.12 L-104.27,6.61 L-103.92,8.06 L-103.5,9.46 L-103.01,10.8 L-102.47,12.07 L-100.84,11.87 L-99.91,13.33 Z" fill="#fff" stroke="#111" stroke-width="1.12" stroke-linejoin="round"/>
<circle cx="-101.09" cy="13.85" r="0.6" fill="#222"/>
<circle cx="-97.21" cy="17.89" r="0.6" fill="#222"/>
<path d="M-129.3,-19.9 L-122,-19.9 A11.94,19.9 0 0 1 -122,19.9 L-129.3,19.9 A11.94,19.9 0 0 1 -129.3,-19.9 Z" fill="#fff" stroke="#111" stroke-width="1.12" stroke-linejoin="round"/>
<path d="M-127.8,-19.9 L-126.55,-19.79 L-125.32,-19.47 L-124.11,-18.93 L-122.94,-18.18 L-121.83,-17.23 L-120.78,-16.1 L-119.81,-14.79 L-118.93,-13.32 L-118.14,-11.7 L-117.46,-9.95 L-116.89,-8.09 L-116.44,-6.15 L-116.12,-4.14 L-115.93,-2.08 L-115.86,0 L-115.93,2.08 L-116.12,4.14 L-116.44,6.15 L-116.89,8.09 L-117.46,9.95" fill="none" stroke="#888" stroke-width="0.5"/>
<ellipse cx="-129.3" cy="0" rx="11.94" ry="19.9" fill="#fff" stroke="#111" stroke-width="1.12" />
<ellipse cx="-129.3" cy="0" rx="9.72" ry="16.2" fill="none" stroke="#111" stroke-width="0.88" />
<ellipse cx="-129.3" cy="0" rx="8.88" ry="14.8" fill="none" stroke="#999" stroke-width="1.5" stroke-dasharray="1.2 1.3"/>
<ellipse cx="-129.3" cy="0" rx="8.04" ry="13.4" fill="none" stroke="#111" stroke-width="0.88" />
<ellipse cx="-129.3" cy="0" rx="6.36" ry="10.6" fill="none" stroke="#111" stroke-width="1.06" />
<ellipse cx="-128.5" cy="0" rx="5.34" ry="8.9" fill="none" stroke="#111" stroke-width="0.88" />
<path d="M-127.77,8.87 L-128.33,8.73 L-128.87,8.5 L-129.4,8.18 L-129.91,7.76 L-130.39,7.26 L-130.83,6.67 L-131.24,6.01 L-131.6,5.28 L-131.91,4.5 L-132.17,3.66 L-132.37,2.78 L-132.52,1.87 L-132.61,0.94 L-132.64,0 L-132.61,-0.94 L-132.52,-1.87 L-132.37,-2.78 L-132.17,-3.66 L-131.91,-4.5 L-131.6,-5.28 L-131.24,-6.01 L-130.83,-6.67 L-130.39,-7.26 L-129.91,-7.76 L-129.4,-8.18 L-128.87,-8.5 L-128.33,-8.73 L-127.77,-8.87" fill="none" stroke="#666" stroke-width="0.5"/>
</g>
<path d="M198.7,386 L183,394.9" fill="none" stroke="#333" stroke-width="0.69" />
<g transform="translate(414.2 378.3) rotate(-30)">
<path d="M0,-11.6 L2.2,-11.6 A6.96,11.6 0 0 1 2.2,11.6 L0,11.6 A6.96,11.6 0 0 1 0,-11.6 Z" fill="#fff" stroke="#111" stroke-width="1.12" stroke-linejoin="round"/>
<ellipse cx="0" cy="0" rx="6.96" ry="11.6" fill="#fff" stroke="#111" stroke-width="1.12" />
<ellipse cx="0.2" cy="0" rx="3.6" ry="6" fill="none" stroke="#111" stroke-width="1" />
<ellipse cx="1.2" cy="0" rx="2.64" ry="4.4" fill="none" stroke="#333" stroke-width="0.75" />
<path d="M0.57,5.64 L0.22,5.39 L-0.12,5.08 L-0.43,4.71 L-0.72,4.29 L-0.98,3.82 L-1.2,3.31 L-1.4,2.76 L-1.55,2.18 L-1.67,1.57 L-1.75,0.95 L-1.79,0.32 L-1.79,-0.32 L-1.75,-0.95 L-1.67,-1.57 L-1.55,-2.18 L-1.4,-2.76 L-1.2,-3.31 L-0.98,-3.82 L-0.72,-4.29 L-0.43,-4.71 L-0.12,-5.08 L0.22,-5.39 L0.57,-5.64" fill="none" stroke="#555" stroke-width="0.56"/>
</g>
<g transform="translate(372.2 423.9) rotate(-30)">
<path d="M-6.98,14.34 L-7.68,13.23 L-8.32,12.03 L-8.9,10.74 L-9.42,9.38 L-9.86,7.94 L-10.22,6.45 L-10.51,4.92 L-10.72,3.35 L-10.85,1.75 L-10.9,0.14 L-10.87,-1.47 L-10.75,-3.07 L-10.55,-4.64 L-10.28,-6.19 L-9.93,-7.68 L-9.5,-9.13 L-9,-10.51 L-8.43,-11.81 L-7.8,-13.03 L-7.11,-14.15 L-6.36,-15.17 L-5.57,-16.09 L-4.73,-16.89 L-3.85,-17.56 L-2.94,-18.11 L-2.01,-18.53 L-1.06,-18.82 L-0.1,-18.97 L0.87,-18.99 L1.83,-18.87 L2.79,-18.61 L3.72,-18.22 L4.64,-17.7 L5.52,-17.06 L6.37,-16.29 L7.18,-15.4 L7.94,-14.4 L8.64,-13.3 L9.29,-12.1 L9.87,-10.82 L10.39,-9.46 L10.83,-8.03 L11.2,-6.54 L11.5,-5.01 L11.71,-3.44 L11.85,-1.84 L11.9,-0.24 L11.87,1.37 L11.76,2.97 L11.57,4.55 L11.3,6.1 L10.95,7.6 L10.53,9.05 L10.03,10.43 L9.47,11.73 L8.84,12.96 L8.15,14.09 L7.41,15.12 L6.61,16.04 L5.78,16.84 L4.9,17.53 L4,18.08 L3.06,18.51 L2.11,18.81 L1.15,18.97 L0.19,18.99 L-0.78,18.88 L-1.73,18.63 L-2.67,18.25 L-3.59,17.74 L-2.51,13.07 L-1.53,13.58 L-1.02,16 L-1.02,16 L-0.26,16.15 L0.5,16.2 L1.27,16.15 L2.03,16 L2.78,15.75 L3.52,15.4 L4.24,14.96 L4.93,14.42 L5.6,13.79 L6.23,13.08 L6.83,12.29 L7.39,11.42 L7.91,10.48 L8.38,9.48 L8.81,8.41 L9.18,7.3 L9.5,6.14 L9.76,4.94 L9.96,3.71 L10.11,2.45 L10.19,1.19 L10.22,-0.09 L10.19,-1.36 L10.09,-2.63 L9.94,-3.88 L9.72,-5.11 L9.45,-6.3 L9.13,-7.46 L8.75,-8.56 L8.32,-9.62 L7.84,-10.62 L7.32,-11.55 L6.75,-12.4 L6.15,-13.19 L5.51,-13.89 L4.83,-14.5 L4.14,-15.02 L3.42,-15.45 L2.68,-15.79 L1.92,-16.03 L1.16,-16.16 L0.4,-16.2 L-0.37,-16.14 L-1.13,-15.97 L-1.87,-15.71 L-2.61,-15.35 L-3.32,-14.89 L-4.02,-14.35 L-4.68,-13.71 L-5.31,-12.99 L-5.91,-12.18 L-6.46,-11.31 L-6.97,-10.36 L-7.44,-9.34 L-7.86,-8.27 L-8.22,-7.15 L-8.53,-5.99 L-8.79,-4.78 L-8.98,-3.55 L-9.12,-2.29 L-9.2,-1.03 L-9.22,0.25 L-9.18,1.52 L-9.07,2.79 L-8.91,4.04 L-8.69,5.26 L-8.42,6.45 L-8.08,7.6 L-7.7,8.7 L-7.26,9.75 L-5.74,9.37 L-5.01,10.57 Z" fill="#fff" stroke="#333" stroke-width="0.62" stroke-linejoin="round"/>
<path d="M-7.88,14.34 L-8.58,13.23 L-9.22,12.03 L-9.8,10.74 L-10.32,9.38 L-10.76,7.94 L-11.12,6.45 L-11.41,4.92 L-11.62,3.35 L-11.75,1.75 L-11.8,0.14 L-11.77,-1.47 L-11.65,-3.07 L-11.45,-4.64 L-11.18,-6.19 L-10.83,-7.68 L-10.4,-9.13 L-9.9,-10.51 L-9.33,-11.81 L-8.7,-13.03 L-8.01,-14.15 L-7.26,-15.17 L-6.47,-16.09 L-5.63,-16.89 L-4.75,-17.56 L-3.84,-18.11 L-2.91,-18.53 L-1.96,-18.82 L-1,-18.97 L-0.03,-18.99 L0.93,-18.87 L1.89,-18.61 L2.82,-18.22 L3.74,-17.7 L4.62,-17.06 L5.47,-16.29 L6.28,-15.4 L7.04,-14.4 L7.74,-13.3 L8.39,-12.1 L8.97,-10.82 L9.49,-9.46 L9.93,-8.03 L10.3,-6.54 L10.6,-5.01 L10.81,-3.44 L10.95,-1.84 L11,-0.24 L10.97,1.37 L10.86,2.97 L10.67,4.55 L10.4,6.1 L10.05,7.6 L9.63,9.05 L9.13,10.43 L8.57,11.73 L7.94,12.96 L7.25,14.09 L6.51,15.12 L5.71,16.04 L4.88,16.84 L4,17.53 L3.1,18.08 L2.16,18.51 L1.21,18.81 L0.25,18.97 L-0.71,18.99 L-1.68,18.88 L-2.63,18.63 L-3.57,18.25 L-4.49,17.74 L-3.41,13.07 L-2.43,13.58 L-1.92,16 L-1.92,16 L-1.16,16.15 L-0.4,16.2 L0.37,16.15 L1.13,16 L1.88,15.75 L2.62,15.4 L3.34,14.96 L4.03,14.42 L4.7,13.79 L5.33,13.08 L5.93,12.29 L6.49,11.42 L7.01,10.48 L7.48,9.48 L7.91,8.41 L8.28,7.3 L8.6,6.14 L8.86,4.94 L9.06,3.71 L9.21,2.45 L9.29,1.19 L9.32,-0.09 L9.29,-1.36 L9.19,-2.63 L9.04,-3.88 L8.82,-5.11 L8.55,-6.3 L8.23,-7.46 L7.85,-8.56 L7.42,-9.62 L6.94,-10.62 L6.42,-11.55 L5.85,-12.4 L5.25,-13.19 L4.61,-13.89 L3.93,-14.5 L3.24,-15.02 L2.52,-15.45 L1.78,-15.79 L1.02,-16.03 L0.26,-16.16 L-0.5,-16.2 L-1.27,-16.14 L-2.03,-15.97 L-2.77,-15.71 L-3.51,-15.35 L-4.22,-14.89 L-4.92,-14.35 L-5.58,-13.71 L-6.21,-12.99 L-6.81,-12.18 L-7.36,-11.31 L-7.87,-10.36 L-8.34,-9.34 L-8.76,-8.27 L-9.12,-7.15 L-9.43,-5.99 L-9.69,-4.78 L-9.88,-3.55 L-10.02,-2.29 L-10.1,-1.03 L-10.12,0.25 L-10.08,1.52 L-9.97,2.79 L-9.81,4.04 L-9.59,5.26 L-9.32,6.45 L-8.98,7.6 L-8.6,8.7 L-8.16,9.75 L-6.64,9.37 L-5.91,10.57 Z" fill="#fff" stroke="#111" stroke-width="1.12" stroke-linejoin="round"/>
<circle cx="-7" cy="11.2" r="0.6" fill="#222"/>
<circle cx="-3.23" cy="14.97" r="0.6" fill="#222"/>
</g>
<g transform="translate(272.6 440.8) rotate(-30)">
<path d="M0,-18.8 L4.6,-18.8 A11.28,18.8 0 0 1 4.6,18.8 L0,18.8 A11.28,18.8 0 0 1 0,-18.8 Z" fill="#fff" stroke="#111" stroke-width="1.12" stroke-linejoin="round"/>
<ellipse cx="0" cy="0" rx="11.28" ry="18.8" fill="#fff" stroke="#111" stroke-width="1.12" />
<ellipse cx="0.3" cy="0" rx="10.38" ry="17.3" fill="none" stroke="#444" stroke-width="0.62" />
<ellipse cx="2.4" cy="0" rx="9.12" ry="15.2" fill="none" stroke="#111" stroke-width="1" />
<path d="M0.35,16.14 L-0.67,15.9 L-1.67,15.48 L-2.63,14.89 L-3.55,14.13 L-4.42,13.21 L-5.23,12.15 L-5.97,10.94 L-6.62,9.62 L-7.19,8.19 L-7.66,6.66 L-8.03,5.06 L-8.3,3.41 L-8.47,1.71 L-8.52,0 L-8.47,-1.71 L-8.3,-3.41 L-8.03,-5.06 L-7.66,-6.66 L-7.19,-8.19 L-6.62,-9.62 L-5.97,-10.94 L-5.23,-12.15 L-4.42,-13.21 L-3.55,-14.13 L-2.63,-14.89 L-1.67,-15.48 L-0.67,-15.9 L0.35,-16.14" fill="none" stroke="#999" stroke-width="0.5"/>
<path d="M2.42,14.97 L1.46,14.6 L0.54,14.06 L-0.35,13.36 L-1.18,12.51 L-1.96,11.51 L-2.66,10.38 L-3.29,9.13 L-3.84,7.78 L-4.29,6.33 L-4.65,4.81 L-4.91,3.24 L-5.07,1.63 L-5.12,0 L-5.07,-1.63 L-4.91,-3.24 L-4.65,-4.81 L-4.29,-6.33 L-3.84,-7.78 L-3.29,-9.13 L-2.66,-10.38 L-1.96,-11.51 L-1.18,-12.51 L-0.35,-13.36 L0.54,-14.06 L1.46,-14.6 L2.42,-14.97" fill="none" stroke="#555" stroke-width="0.56"/>
</g>
<g transform="translate(310.7 421.9) rotate(-30)">
<path d="M2.3,-2.2 L22.8,-2.2 A1.32,2.2 0 0 1 22.8,2.2 L2.3,2.2 A1.32,2.2 0 0 1 2.3,-2.2 Z" fill="#fff" stroke="#111" stroke-width="1" stroke-linejoin="round"/>
<path d="M12.5,-1.8 L23.2,-1.8 L23.8,0 L23.2,1.8 L12.5,1.8 Z" fill="#c2c2c2"/>
<path d="M0,-4.4 L2.3,-4.4 A2.64,4.4 0 0 1 2.3,4.4 L0,4.4 A2.64,4.4 0 0 1 0,-4.4 Z" fill="#fff" stroke="#111" stroke-width="1" stroke-linejoin="round"/>
<ellipse cx="0" cy="0" rx="2.64" ry="4.4" fill="#fff" stroke="#111" stroke-width="1" />
<path d="M1.52,-2.94 L1.7,-2.75 L1.87,-2.53 L2.02,-2.28 L2.15,-2 L2.27,-1.7 L2.36,-1.38 L2.44,-1.05 L2.5,-0.71 L2.53,-0.36 L2.54,0 L2.53,0.36 L2.5,0.71 L2.44,1.05 L2.36,1.38 L2.27,1.7 L2.15,2 L2.02,2.28 L1.87,2.53 L1.7,2.75 L1.52,2.94 L1.33,3.11 L1.13,3.23 L0.92,3.33 L0.71,3.38 L0.5,3.4 L0.29,3.38 L0.08,3.33 L-0.13,3.23 L-0.33,3.11 L-0.52,2.94" fill="none" stroke="#999" stroke-width="0.5"/>
</g>
<path d="M371.7,300 C378,303 384,307 389,311.5 C398,320 408.6,340 409.7,363.3" fill="none" stroke="#111" stroke-width="1.19" />
<path d="M371.7,300 C378,303 384.5,306.5 390,311 C402,321 416,340 417.3,363.3" fill="none" stroke="#111" stroke-width="1.19" />
<path d="M337.3,328 C343,335 347,341 350,347 C356,358 363,378 365.3,403.3" fill="none" stroke="#111" stroke-width="1.19" />
<path d="M337.3,328 C343,335 347.5,340.5 351,346 C360,359 371.5,380 373,403.3" fill="none" stroke="#111" stroke-width="1.19" />
<path d="M286.7,356.3 C288,359 289.2,362 290,365.5 C292.2,376 289.5,397 280,419.5" fill="none" stroke="#111" stroke-width="1.19" />
<path d="M286.7,356.3 C288,359 289.6,362 290.6,365 C296,380 293.2,404 286.5,422.5" fill="none" stroke="#111" stroke-width="1.19" />
<path d="M226.7,120.8 L213.3,134.7" fill="none" stroke="#111" stroke-width="0.75" />
<circle cx="213.3" cy="134.7" r="1.1" fill="#111"/>
<path d="M241.7,130 L228.3,149.7" fill="none" stroke="#111" stroke-width="0.75" />
<circle cx="228.3" cy="149.7" r="1.1" fill="#111"/>
<path d="M262,140.8 L250.3,159.2" fill="none" stroke="#111" stroke-width="0.75" />
<circle cx="250.3" cy="159.2" r="1.1" fill="#111"/>
<path d="M280,151.7 L269.7,170.8" fill="none" stroke="#111" stroke-width="0.75" />
<circle cx="269.7" cy="170.8" r="1.1" fill="#111"/>
<path d="M299,161 L291.5,185" fill="none" stroke="#111" stroke-width="0.75" />
<circle cx="291.5" cy="185" r="1.1" fill="#111"/>
<path d="M318,170.4 L317.3,185.3" fill="none" stroke="#111" stroke-width="0.75" />
<circle cx="317.3" cy="185.3" r="1.1" fill="#111"/>
<path d="M341.3,158.6 L343.6,174.4" fill="none" stroke="#111" stroke-width="0.75" />
<circle cx="343.6" cy="174.4" r="1.1" fill="#111"/>
<path d="M210.7,235.7 L216,252.7" fill="none" stroke="#111" stroke-width="0.75" />
<circle cx="216" cy="252.7" r="1.1" fill="#111"/>
<path d="M363,264.4 L366,276.8" fill="none" stroke="#111" stroke-width="0.75" />
<circle cx="366" cy="276.8" r="1.1" fill="#111"/>
<path d="M374.2,315 L362.5,304.2" fill="none" stroke="#111" stroke-width="0.75" />
<circle cx="362.5" cy="304.2" r="1.1" fill="#111"/>
<path d="M356,338.4 L347.3,332" fill="none" stroke="#111" stroke-width="0.75" />
<circle cx="347.3" cy="332" r="1.1" fill="#111"/>
<path d="M272.9,309.4 L278.7,315.3" fill="none" stroke="#111" stroke-width="0.75" />
<circle cx="278.7" cy="315.3" r="1.1" fill="#111"/>
<path d="M248.2,322.4 L255,328.7" fill="none" stroke="#111" stroke-width="0.75" />
<circle cx="255" cy="328.7" r="1.1" fill="#111"/>
<path d="M209.3,338.2 L217,347.7" fill="none" stroke="#111" stroke-width="0.75" />
<circle cx="217" cy="347.7" r="1.1" fill="#111"/>
<path d="M185.7,352.4 L191.7,364" fill="none" stroke="#111" stroke-width="0.75" />
<circle cx="191.7" cy="364" r="1.1" fill="#111"/>
<path d="M432.7,400.4 L422.7,389" fill="none" stroke="#111" stroke-width="0.75" />
<circle cx="422.7" cy="389" r="1.1" fill="#111"/>
<path d="M397.3,451.6 L385,439.6" fill="none" stroke="#111" stroke-width="0.75" />
<circle cx="385" cy="439.6" r="1.1" fill="#111"/>
<path d="M328.3,441.7 L325,418.7" fill="none" stroke="#111" stroke-width="0.75" />
<circle cx="325" cy="418.7" r="1.1" fill="#111"/>
<path d="M254.7,473.3 L266.7,453.7" fill="none" stroke="#111" stroke-width="0.75" />
<circle cx="266.7" cy="453.7" r="1.1" fill="#111"/>
<rect x="293" y="274" width="11.5" height="12" fill="#fff"/>
<text class="lbl" x="229.5" y="119.3">20</text>
<text class="lbl" x="246.7" y="129.4">19</text>
<text class="lbl" x="265.3" y="140.1">18</text>
<text class="lbl" x="282" y="150.9">17</text>
<text class="lbl" x="301.2" y="159.6">16</text>
<text class="lbl" x="319.3" y="169.8">2</text>
<text class="lbl" x="341" y="157.1">3</text>
<text class="lbl" x="210.4" y="235.1">1</text>
<text class="lbl" x="298.7" y="283.1">6</text>
<text class="lbl" x="363.5" y="263.6">11</text>
<text class="lbl" x="379.7" y="323.9">10</text>
<text class="lbl" x="360.7" y="345.8">9</text>
<text class="lbl" x="270.7" y="309.8">8</text>
<text class="lbl" x="245.3" y="325.1">7</text>
<text class="lbl" x="206.7" y="338.4">5</text>
<text class="lbl" x="183.3" y="351.5">4</text>
<text class="lbl" x="438" y="410.1">12</text>
<text class="lbl" x="401.6" y="462.1">13</text>
<text class="lbl" x="329.2" y="451.4">14</text>
<text class="lbl" x="254.7" y="482.8">15</text>
<text class="t1" x="128.9" y="491.8">AHDBIA4A</text>
<text class="t2" x="128.9" y="497.6">TRANSFER BOX - LT230 - REAR FLANGE - DEF 90</text>
<text class="t2" x="472.2" y="497.6" text-anchor="end">CTP LOGISTICS LTD</text>
<text class="t3" x="230.1" y="581.8">© Copyright, 2016. Jaguar Land Rover Limited.</text>
</svg>
</body></html>
